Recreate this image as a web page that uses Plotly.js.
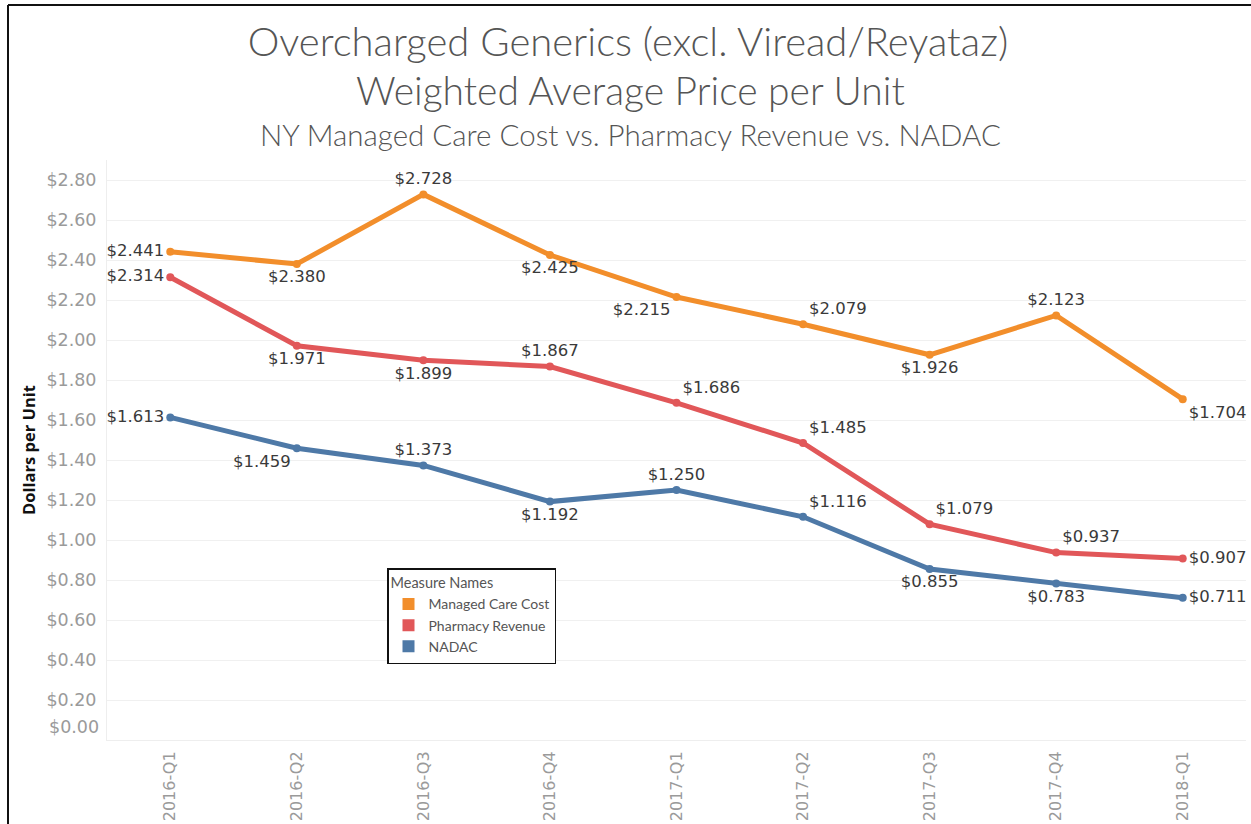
<!DOCTYPE html>
<html>
<head>
<meta charset="utf-8">
<script src="https://cdn.plot.ly/plotly-3.0.1.min.js"></script>
<style>
  html, body { margin: 0; padding: 0; background: #fff; }
  #chart { width: 1251px; height: 824px; }
</style>
</head>
<body>
<div id="chart"></div>
<script>
// ---- Data ----
const quarters = ["2016-Q1","2016-Q2","2016-Q3","2016-Q4","2017-Q1","2017-Q2","2017-Q3","2017-Q4","2018-Q1"];
const managedCareCost = [2.441, 2.380, 2.728, 2.425, 2.215, 2.079, 1.926, 2.123, 1.704];
const pharmacyRevenue = [2.314, 1.971, 1.899, 1.867, 1.686, 1.485, 1.079, 0.937, 0.907];
const nadac = [1.613, 1.459, 1.373, 1.192, 1.250, 1.116, 0.855, 0.783, 0.711];
const seriesNames = ["Managed Care Cost", "Pharmacy Revenue", "NADAC"];
const yTicks = [0.2, 0.4, 0.6, 0.8, 1.0, 1.2, 1.4, 1.6, 1.8, 2.0, 2.2, 2.4, 2.6, 2.8];

// ---- Styling ----
const colors = ["#F28E2B", "#E15759", "#4E79A7"];
const labelPos = [
  ["middle left","bottom center","top center","bottom center","bottom left","top right","bottom center","top center","bottom right"],
  ["middle left","bottom center","bottom center","top center","top right","top right","top right","top right","middle right"],
  ["middle left","bottom left","top center","bottom center","top center","top right","bottom center","bottom center","middle right"]
];
const titleFont = "Lato, 'Open Sans', sans-serif";
const numFont = "'DejaVu Sans', sans-serif";
const legendFont = "Lato, 'Open Sans', sans-serif";
const allSeries = [managedCareCost, pharmacyRevenue, nadac];

const traces = [];
allSeries.forEach((vals, i) => {
  traces.push({
    type: "scatter",
    mode: "lines+markers+text",
    x: quarters,
    y: vals,
    name: seriesNames[i],
    showlegend: false,
    line: { color: colors[i], width: 5 },
    marker: { color: colors[i], size: 8 },
    texttemplate: "$%{y:.3f}",
    textposition: labelPos[i],
    textfont: { family: numFont, size: 16.5, color: "#3a3a3a" },
    cliponaxis: false,
    hoverinfo: "x+y+name"
  });
});
// legend entries (square swatches)
allSeries.forEach((vals, i) => {
  traces.push({
    type: "scatter",
    mode: "markers",
    x: [null],
    y: [null],
    name: seriesNames[i],
    marker: { color: colors[i], size: 11, symbol: "square" },
    showlegend: true,
    hoverinfo: "skip"
  });
});

const L = 107, R = 1246, T = 160, B = 740;
const pw = R - L, ph = B - T;

const layout = {
  width: 1251,
  height: 824,
  paper_bgcolor: "#fff",
  plot_bgcolor: "#fff",
  margin: { l: L, r: 1251 - R, t: T, b: 824 - B, pad: 0 },
  font: { family: titleFont, color: "#555" },
  title: {
    text: "Overcharged Generics (excl. Viread/Reyataz)",
    font: { family: titleFont, size: 40, color: "#555", weight: 300 },
    x: (628 - L) / pw, xref: "paper", xanchor: "center",
    y: 1 - 42 / 824, yref: "container", yanchor: "middle"
  },
  xaxis: {
    type: "category",
    range: [-0.5, 8.5],
    tickangle: -90,
    tickfont: { family: numFont, size: 16, color: "#9a9a9a" },
    showgrid: false,
    showline: true,
    linecolor: "#eee",
    linewidth: 1,
    ticks: "",
    ticklabelstandoff: 4,
    fixedrange: true
  },
  yaxis: {
    range: [0, 2.9],
    tickvals: yTicks,
    tickformat: "$.2f",
    tickfont: { family: numFont, size: 17.5, color: "#9a9a9a" },
    showgrid: true,
    gridcolor: "#f0f0f0",
    gridwidth: 1,
    zeroline: false,
    showline: true,
    linecolor: "#eee",
    ticks: "",
    ticklabelstandoff: 6,
    title: {
      text: "Dollars per Unit",
      font: { family: "'Open Sans', sans-serif", size: 16.5, color: "#111", weight: "bold" },
      standoff: 6
    },
    fixedrange: true
  },
  legend: {
    x: (387 - L) / pw,
    y: (B - 568) / ph,
    xanchor: "left",
    yanchor: "top",
    bgcolor: "#fff",
    bordercolor: "#111",
    borderwidth: 1.5,
    font: { family: legendFont, size: 14, color: "#555" },
    title: { text: "Measure Names", font: { family: legendFont, size: 14.5, color: "#555" }, side: "top" },
    itemsizing: "constant",
    tracegroupgap: 0,
    itemwidth: 30
  },
  annotations: [
    {
      text: "Weighted Average Price per Unit",
      xref: "paper", yref: "paper",
      x: (630 - L) / pw, y: (B - 90) / ph,
      xanchor: "center", yanchor: "middle",
      showarrow: false,
      font: { family: titleFont, size: 39, color: "#555", weight: 300 }
    },
    {
      text: "NY Managed Care Cost vs. Pharmacy Revenue vs. NADAC",
      xref: "paper", yref: "paper",
      x: (630 - L) / pw, y: (B - 135) / ph,
      xanchor: "center", yanchor: "middle",
      showarrow: false,
      font: { family: titleFont, size: 29.5, color: "#555", weight: 300 }
    },
    {
      text: "$0.00",
      xref: "paper", yref: "paper",
      x: 0, y: (B - 727) / ph,
      xanchor: "right", yanchor: "middle",
      xshift: -6,
      showarrow: false,
      font: { family: numFont, size: 17.5, color: "#9a9a9a" }
    }
  ],
  shapes: [
    { type: "line", xref: "paper", yref: "paper", x0: (8 - L) / pw, x1: (8 - L) / pw, y0: (B - 824) / ph, y1: (B - 5) / ph, line: { color: "#111", width: 2 } },
    { type: "line", xref: "paper", yref: "paper", x0: (8 - L) / pw, x1: (1251 - L) / pw, y0: (B - 5) / ph, y1: (B - 5) / ph, line: { color: "#111", width: 2 } }
  ]
};

Plotly.newPlot("chart", traces, layout, { displayModeBar: false });
</script>
</body>
</html>
